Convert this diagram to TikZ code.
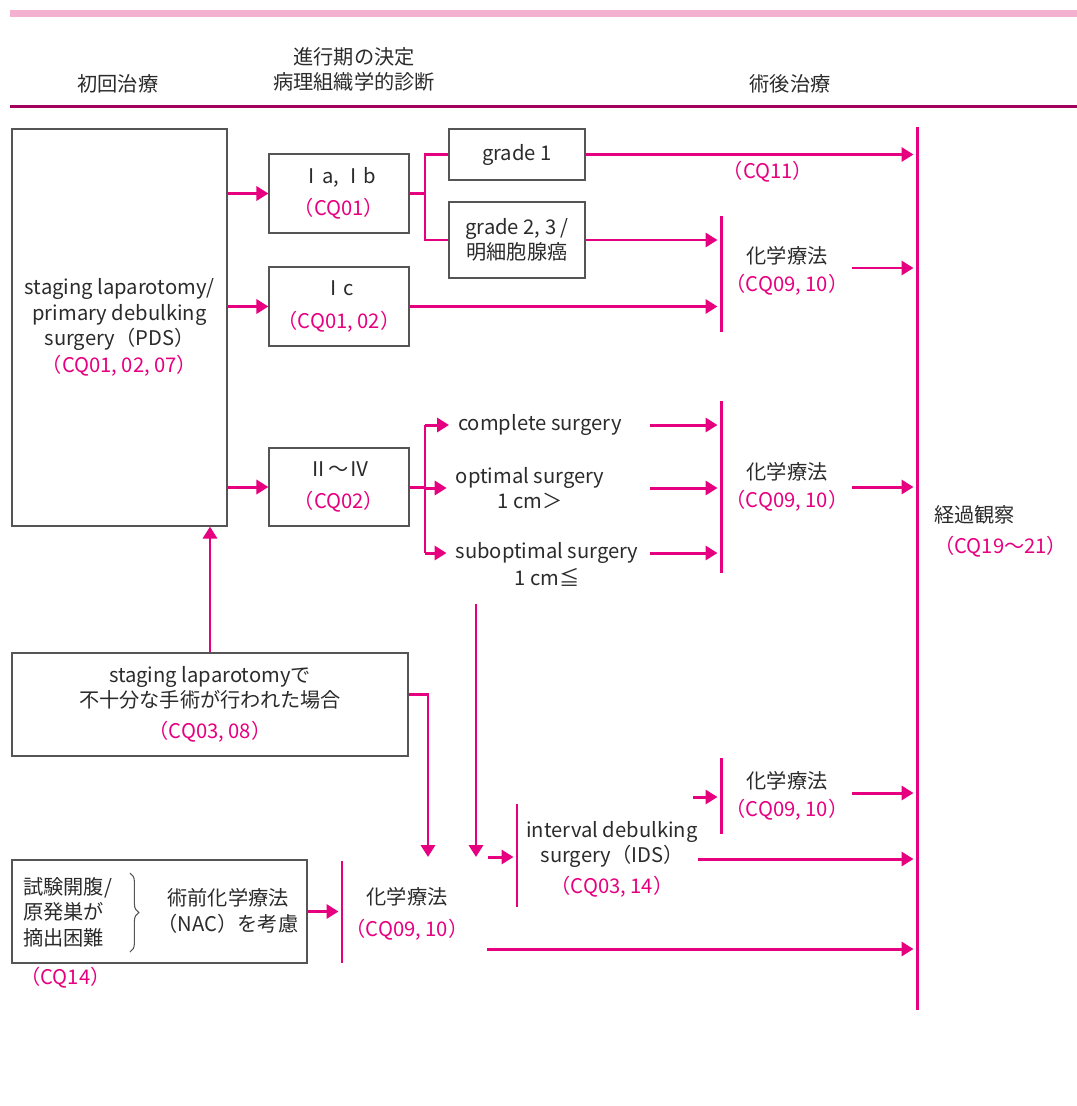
\documentclass[tikz,border=0pt]{standalone}
\usepackage{fontspec}
\setmainfont{Noto Sans CJK JP}
\usepackage{tikz}
\usetikzlibrary{arrows.meta}
\usetikzlibrary{decorations.pathreplacing}

\definecolor{cqpink}{HTML}{E6007F}
\definecolor{bandpink}{HTML}{F4B0CF}
\definecolor{rulered}{HTML}{A3005E}
\definecolor{boxgray}{HTML}{555555}
\definecolor{txtgray}{HTML}{2B2B2B}

\newcommand{\cq}[1]{\textcolor{cqpink}{#1}}

\begin{document}
\begin{tikzpicture}[x=0.02cm,y=-0.02cm,
  font=\fontsize{11.5}{14.5}\selectfont, text=txtgray,
  box/.style={draw=boxgray,line width=0.7pt,align=center,inner sep=0pt},
  lbl/.style={align=center,inner sep=0pt},
  surg/.style={align=center,inner ysep=0pt,inner xsep=5pt},
  ln/.style={draw=cqpink,line width=1.7pt},
  arr/.style={ln,-{Triangle[length=6.8pt,width=8pt]}},
  barr/.style={arr,shorten >=2pt}]
  \useasboundingbox (0,0) rectangle (1077,1106);
  % header
  \fill[bandpink] (10,10) rectangle (1077,17);
  \fill[rulered] (10,105) rectangle (1077,108);
  \node[lbl] (h-first) at (118,84) {初回治療};
  \node[lbl] (h-stage) at (354,57) {進行期の決定};
  \node[lbl] (h-patho) at (354,82) {病理組織学的診断};
  \node[lbl] (h-post) at (790,84) {術後治療};

  % boxes
  \node[box,minimum width=4.3cm,minimum height=7.94cm] (PDS) at (119.5,327.5)
    {staging laparotomy/\\primary debulking\\surgery（PDS）\\[1pt]\cq{（CQ01, 02, 07）}};
  \node[box,minimum width=2.8cm,minimum height=1.58cm] (IaIb) at (339,193.5)
    {Ⅰa, Ⅰb\\[4pt]\cq{（CQ01）}};
  \node[box,minimum width=2.8cm,minimum height=1.58cm] (Ic) at (339,306.5)
    {Ⅰc\\[4pt]\cq{（CQ01, 02）}};
  \node[box,minimum width=2.8cm,minimum height=1.56cm] (IIIV) at (339,487)
    {Ⅱ～Ⅳ\\[4pt]\cq{（CQ02）}};
  \node[box,minimum width=2.72cm,minimum height=1.02cm] (g1) at (517,154.5) {grade 1};
  \node[box,minimum width=2.72cm,minimum height=1.52cm] (g23) at (517,240)
    {grade 2, 3 /\\明細胞腺癌};
  \node[box,minimum width=7.92cm,minimum height=2.06cm] (inad) at (210,704.5)
    {staging laparotomyで\\不十分な手術が行われた場合\\[3pt]\cq{（CQ03, 08）}};
  \node[box,minimum width=5.9cm,minimum height=2.06cm] (NAC) at (159.5,911.5) {};
  \node[lbl,align=left,anchor=west] (nac-l) at (23,912) {試験開腹/\\原発巣が\\摘出困難};
  \node[lbl] (nac-r) at (228,911) {術前化学療法\\（NAC）を考慮};
  \draw[boxgray,line width=0.6pt,decorate,decoration={brace,amplitude=5pt}]
    (130,873) -- (130,952);
  \node[lbl,anchor=west] (cq14) at (20,978) {\cq{（CQ14）}};

  % surgery outcomes
  \node[surg,anchor=west] (cs) at (449,425) {complete surgery};
  \node[surg] (os) at (530,488) {optimal surgery\\1 cm＞};
  \node[surg] (ss) at (547,553) {suboptimal surgery};
  \node[lbl] (ss2) at (547,577) {1 cm≦};

  % bars
  \coordinate (fu) at (917,127);
  \coordinate (fu-e) at (917,1010);
  \coordinate (ch1) at (721,216);
  \coordinate (ch1-e) at (721,332);
  \coordinate (ch2) at (721,401);
  \coordinate (ch2-e) at (721,573);
  \coordinate (ch3) at (342,861);
  \coordinate (ch3-e) at (342,963);
  \coordinate (ids) at (517,804);
  \coordinate (ids-e) at (517,907);
  \coordinate (ch4) at (721,758);
  \coordinate (ch4-e) at (721,834);
  \foreach \b in {fu,ch1,ch2,ch3,ids,ch4}{%
    \draw[ln] (\b) -- (\b-e);
  }

  % bar labels
  \node[lbl] (ch1-l) at (787,271) {化学療法\\[1.5pt]\cq{（CQ09, 10）}};
  \node[lbl] (ch2-l) at (787,487) {化学療法\\[1.5pt]\cq{（CQ09, 10）}};
  \node[lbl] (ch3-l) at (407,914) {化学療法\\[4pt]\cq{（CQ09, 10）}};
  \node[lbl] (ch4-l) at (787,795.5) {化学療法\\[1.5pt]\cq{（CQ09, 10）}};
  \node[lbl] (ids-l) at (612,859)
    {interval debulking\\surgery（IDS）\\[3pt]\cq{（CQ03, 14）}};
  \node[lbl,align=left,anchor=west] (fu-l) at (934,531)
    {経過観察\\[3pt]\cq{（CQ19～21）}};
  \node[lbl] (cq11) at (768,172) {\cq{（CQ11）}};

  % connectors
  \coordinate (brA) at (425,193);
  \coordinate (brB) at (425,487);
  \coordinate (sg) at (650,425);
  \foreach \x in {IaIb,Ic,IIIV}{%
    \draw[arr] (PDS.east |- \x.west) -- (\x.west);
  }
  \draw[ln] (IaIb.east) -- (brA |- IaIb.east);
  \draw[ln] (g1.west) -| (brA |- g23.west) -- (g23.west);
  \draw[barr] (g1.east) -- (g1.east -| fu);
  \draw[barr] (g23.east) -- (g23.east -| ch1);
  \draw[barr] (Ic.east) -- (Ic.east -| ch1);
  \draw[barr] ([xshift=2pt]ch1-l.east |- 0,268) -- (fu |- 0,268);

  \draw[ln] (IIIV.east) -- (brB |- IIIV.east);
  \draw[ln] (brB |- cs.west) -- (brB |- ss.west);
  \foreach \s in {cs,os,ss}{%
    \draw[arr] (brB |- \s.west) -- (\s.west);
    \draw[barr] (sg |- \s.west) -- (ch2 |- \s.west);
  }
  \draw[barr] ([xshift=2pt]ch2-l.east) -- (ch2-l.east -| fu);

  \draw[arr] (inad.north) -- (inad.north |- PDS.south);
  \coordinate (m1) at (428,857);
  \draw[arr] ([yshift=5.7pt]inad.east) -| (m1);
  \coordinate (m2) at (476,604);
  \coordinate (m2-e) at (476,857);
  \draw[arr] (m2) -- (m2-e);
  \coordinate (m3) at (488,857);
  \draw[barr] (m3) -- (m3 -| ids);
  \draw[barr] (NAC.east) -- (NAC.east -| ch3);

  \coordinate (m4) at (693,797);
  \draw[barr] (m4) -- (m4 -| ch4);
  \draw[barr] ([xshift=2pt]ch4-l.east |- 0,793) -- (fu |- 0,793);
  \draw[barr] (ids-l.east) -- (ids-l.east -| fu);
  \coordinate (m5) at (487,949);
  \draw[barr] (m5) -- (m5 -| fu);
\end{tikzpicture}
\end{document}
